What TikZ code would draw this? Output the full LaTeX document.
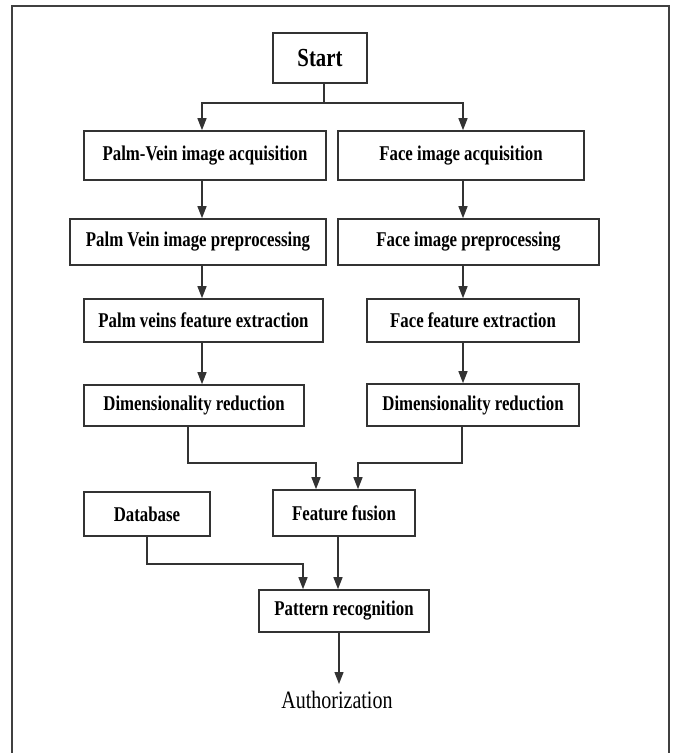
\documentclass[tikz,border=0pt]{standalone}
\usepackage{fontspec}
\setmainfont{Liberation Serif}[FakeStretch=0.8]
\usetikzlibrary{shapes,arrows.meta}
\tikzstyle{block} = [rectangle, draw=black!80, line width=1.6pt, align=center, inner sep=0pt, font=\fontsize{21}{24}\selectfont\bfseries]
\tikzstyle{line} = [draw=black!80, line width=1.3pt, -{Triangle[length=12pt,width=9pt]}]
\tikzstyle{wire} = [draw=black!80, line width=1.3pt]

\begin{document}
\begin{tikzpicture}[x=1pt, y=-1pt]
\useasboundingbox (0,0) rectangle (673,753);
\draw [line width=1.8pt, black!75] (12,753) -- (12,6) -- (669,6) -- (669,753);

% start
\node [block, minimum width=94pt, minimum height=50pt, font=\fontsize{26}{28}\selectfont\bfseries] at (320, 58) (start) {Start};

% palm vein column
\coordinate (lcol) at (202, 0);
\node [block, minimum width=242pt, minimum height=49pt] at (205, 155.5) (pva) {Palm-Vein image acquisition};
\node [block, minimum width=256pt, minimum height=46pt] at (198, 242) (pvp) {Palm Vein image preprocessing};
\node [block, minimum width=239pt, minimum height=43pt] at (203.5, 320.5) (pvf) {Palm veins feature extraction};
\node [block, minimum width=220pt, minimum height=41pt] at (194, 405.5) (pvd) {Dimensionality reduction};

% face column
\coordinate (rcol) at (463, 0);
\node [block, minimum width=246pt, minimum height=49pt] at (461, 155.5) (fia) {Face image acquisition};
\node [block, minimum width=261pt, minimum height=46pt] at (468.5, 242) (fip) {Face image preprocessing};
\node [block, minimum width=212pt, minimum height=43pt] at (473, 320.5) (fff) {Face feature extraction};
\node [block, minimum width=212pt, minimum height=42pt] at (473, 405) (fdr) {Dimensionality reduction};

% fusion and matching
\node [block, minimum width=142pt, minimum height=46pt] at (344, 513) (fusion) {Feature fusion};
\node [block, minimum width=126pt, minimum height=44pt] at (147, 514) (db) {Database};
\node [block, minimum width=170pt, minimum height=42pt] at (344, 611) (pr) {Pattern recognition};
\node [font=\fontsize{25}{28}\selectfont, inner sep=0pt, anchor=north] at (337, 691) (auth) {Authorization};

\coordinate (split) at (324, 103);
\draw [wire] ([xshift=4pt]start.south) -- (split);
\path [line] (split) -| (pva.north -| lcol);
\path [line] (split) -| (fia.north -| rcol);
\path [line] (pva.south -| lcol) -- (pvp.north -| lcol);
\path [line] (pvp.south -| lcol) -- (pvf.north -| lcol);
\path [line] (pvf.south -| lcol) -- (pvd.north -| lcol);
\path [line] (fia.south -| rcol) -- (fip.north -| rcol);
\path [line] (fip.south -| rcol) -- (fff.north -| rcol);
\path [line] (fff.south -| rcol) -- (fdr.north -| rcol);

% joins
\coordinate (join) at (0, 463);
\coordinate (dbjoin) at (0, 564);
\coordinate (fusinL) at ([xshift=-28pt]fusion.north);
\coordinate (fusinR) at ([xshift=14pt]fusion.north);
\coordinate (prinL) at ([xshift=-41pt]pr.north);
\coordinate (prinR) at ([xshift=-6pt]pr.north);
\coordinate (prout) at ([xshift=-5pt]pr.south);
\coordinate (authin) at ([yshift=7pt]auth.north);
\path [line] ([xshift=-6pt]pvd.south) |- (join -| fusinL) -- (fusinL);
\path [line] ([xshift=-11pt]fdr.south) |- (join -| fusinR) -- (fusinR);
\path [line] (db.south) |- (dbjoin -| prinL) -- (prinL);
\path [line] (fusion.south -| prinR) -- (prinR);
\path [line] (prout) -- (prout |- authin);

\end{tikzpicture}
\end{document}
